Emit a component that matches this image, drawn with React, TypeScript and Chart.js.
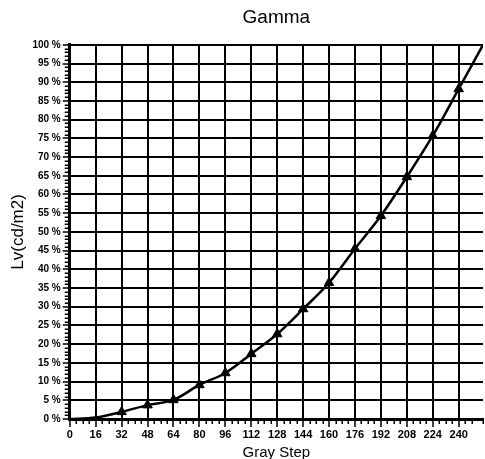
import React, { useEffect, useRef } from "react";
import { Chart, registerables } from "chart.js";

Chart.register(...registerables);

const grayLevels = [0, 16, 32, 48, 64, 80, 96, 112, 128, 144, 160, 176, 192, 208, 224, 240, 255];
const lvPercent = [0, 0.4, 1.9, 3.7, 5.1, 9.1, 12.3, 17.4, 22.7, 29.4, 36.4, 45.5, 54.3, 64.7, 75.7, 88.2, 100];
const markerLevels = [32, 48, 64, 80, 96, 112, 128, 144, 160, 176, 192, 208, 224, 240];
const xMajorStep = 16;
const xMinorStep = 4;
const yMajorStep = 5;
const yMinorStep = 1;

const FONT = "'Liberation Sans', Arial, sans-serif";

const minorTicksPlugin = {
  id: "minorTicks",
  afterDraw(chart: any) {
    const ctx = chart.ctx;
    const xs = chart.scales.x;
    const ys = chart.scales.y;
    ctx.save();
    ctx.strokeStyle = "#000";
    ctx.lineWidth = 1.5;
    ctx.beginPath();
    xs.ticks.forEach((t: any) => {
      if (t.value % xMajorStep !== 0) {
        const px = Math.round(xs.getPixelForValue(t.value)) + 0.25;
        ctx.moveTo(px, xs.top);
        ctx.lineTo(px, xs.top + 5);
      }
    });
    ys.ticks.forEach((t: any) => {
      if (t.value % yMajorStep !== 0) {
        const py = Math.round(ys.getPixelForValue(t.value)) + 0.25;
        ctx.moveTo(ys.right, py);
        ctx.lineTo(ys.right - 5, py);
      }
    });
    ctx.stroke();
    ctx.restore();
  },
};

export default function App() {
  const ref = useRef<HTMLCanvasElement>(null);

  useEffect(() => {
    document.body.style.margin = "0";
    const chart = new Chart(ref.current!, {
      type: "line",
      data: {
        datasets: [
          {
            data: grayLevels.map((x, i) => ({ x, y: lvPercent[i] })),
            borderColor: "#000",
            borderWidth: 2.5,
            pointStyle: "triangle",
            pointRadius: (c: any) => (markerLevels.includes(grayLevels[c.dataIndex]) ? 5.5 : 0),
            pointBackgroundColor: "#000",
            pointBorderColor: "#000",
            pointBorderWidth: 1,
            cubicInterpolationMode: "monotone",
          } as any,
        ],
      },
      plugins: [minorTicksPlugin],
      options: {
        responsive: false,
        animation: false,
        layout: { padding: { left: 8, right: 0, top: 0, bottom: -1 } },
        plugins: {
          legend: { display: false },
          tooltip: { enabled: false },
          title: {
            display: true,
            fullSize: false,
            text: "Gamma",
            color: "#000",
            font: { family: FONT, size: 19, weight: "normal" },
            padding: { top: 6, bottom: 16 },
          },
        },
        scales: {
          x: {
            type: "linear",
            min: 0,
            max: 255,
            ticks: {
              stepSize: xMinorStep,
              autoSkip: false,
              maxRotation: 0,
              color: "#000",
              font: { family: FONT, size: 11, weight: "bold", lineHeight: 1 },
              padding: 2,
              callback: (v: any) => (Number(v) % xMajorStep === 0 ? String(v) : ""),
            },
            grid: {
              color: "#000",
              lineWidth: (c: any) => (c.tick && c.tick.value % xMajorStep === 0 ? 2 : 0),
              tickColor: (c: any) => (c.tick && c.tick.value % xMajorStep === 0 ? "#000" : "rgba(0,0,0,0)"),
              tickWidth: 1.5,
              tickLength: 8,
            },
            border: { color: "#000", width: 3 },
            title: {
              display: true,
              text: "Gray Step",
              color: "#000",
              font: { family: FONT, size: 15, weight: "normal", lineHeight: 1 },
              padding: { top: 3, bottom: 0 },
            },
          },
          y: {
            type: "linear",
            min: 0,
            max: 100,
            ticks: {
              stepSize: yMinorStep,
              autoSkip: false,
              color: "#000",
              font: { family: FONT, size: 10, weight: "bold" },
              padding: 2,
              callback: (v: any) => (Number(v) % yMajorStep === 0 ? `${v} %` : ""),
            },
            grid: {
              color: "#000",
              lineWidth: (c: any) => (c.tick && c.tick.value % yMajorStep === 0 ? 2 : 0),
              tickColor: (c: any) => (c.tick && c.tick.value % yMajorStep === 0 ? "#000" : "rgba(0,0,0,0)"),
              tickWidth: 1.5,
              tickLength: 7,
            },
            border: { color: "#000", width: 3 },
            title: {
              display: true,
              text: "Lv(cd/m2)",
              color: "#000",
              font: { family: FONT, size: 17, weight: "normal" },
              padding: { top: 0, bottom: 2 },
            },
          },
        },
      },
    });
    return () => chart.destroy();
  }, []);

  return (
    <div style={{ width: 485, height: 459, background: "#fff" }}>
      <canvas ref={ref} width={485} height={459} style={{ display: "block" }} />
    </div>
  );
}
